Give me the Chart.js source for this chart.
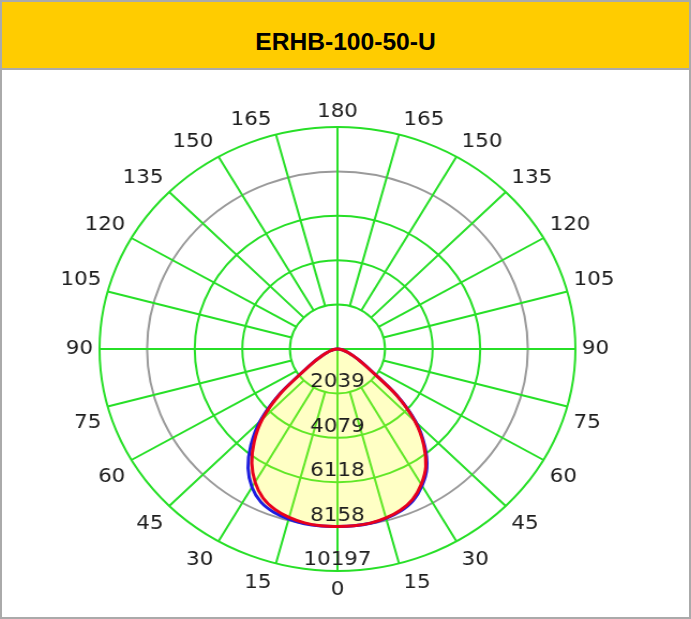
<!DOCTYPE html>
<html>
<head>
<meta charset="utf-8">
<script src="https://cdn.jsdelivr.net/npm/chart.js@4"></script>
<style>
html,body{margin:0;padding:0;background:#fff;}
#frame{position:absolute;left:0;top:0;width:691px;height:619px;box-sizing:border-box;border:2px solid #aaa;background:#fff;overflow:hidden;}
#hdr{position:absolute;left:0;top:0;width:687px;height:66px;background:#ffcc00;border-bottom:2px solid #aaa;
  font:bold 24.6px "Liberation Sans",Arial,sans-serif;color:#000;text-align:center;line-height:79px;overflow:hidden;}
#c{position:absolute;left:0;top:68px;}
</style>
</head>
<body>
<div id="frame">
  <div id="hdr">ERHB-100-50-U</div>
  <canvas id="c" width="641" height="547" style="width:687px;height:547px;"></canvas>
</div>
<script>
// ---- data ----
const chartTitle = 'ERHB-100-50-U';
// angle tick labels every 15 degrees, clockwise starting at the top
const angleTicks = ['180','165','150','135','120','105','90','75','60','45','30','15',
                    '0','15','30','45','60','75','90','105','120','135','150','165'];
// ring (intensity) tick labels
const ringLabels = ['2039','4079','6118','8158','10197'];
const ringTicks = [0, 2039, 4079, 6118, 8158, 10197];
// gamma angles of the measured values (deg)
const gammas = [0,5,10,15,20,25,30,35,40,45,50,55,60,65,70,75,80,85,90];
// C90 (right) / C270 (left) plane - red
const c90  = [8150,8150,8120,8030,7880,7620,7180,6600,5750,4700,3300,1800,1150,750,480,320,200,100,30];
const c270 = [8150,8150,8110,8010,7840,7550,7060,6400,5550,4550,3200,1780,1130,730,470,310,200,100,30];
// C0 (right) / C180 (left) plane - blue
const c0   = [8150,8150,8130,8050,7920,7680,7250,6680,5820,4760,3340,1820,1160,750,480,320,200,100,30];
const c180 = [8150,8160,8150,8090,7980,7760,7330,6680,5780,4700,3280,1800,1140,730,470,310,200,100,30];

// ---- build radar categories at 5 degree steps ----
const STEP = 5;
const N = 360 / STEP;
const categories = [];
for (let i = 0; i < N; i++) categories.push((i % 3 === 0) ? angleTicks[i / 3] : '');
function planeData(rightArr, leftArr) {
  const out = [];
  for (let i = 0; i < N; i++) {
    const a = i * STEP;
    if (a >= 90 && a <= 180) out.push(rightArr[gammas.indexOf(180 - a)]);
    else if (a > 180 && a <= 270) out.push(leftArr[gammas.indexOf(a - 180)]);
    else out.push(0);
  }
  return out;
}
const redData = planeData(c90, c270);
const blueData = planeData(c0, c180);

const GREEN = '#27df27';
const LABEL_FONT = '20px "DejaVu Sans", Verdana, sans-serif';

const photoGrid = {
  id: 'photoGrid',
  beforeDatasetsDraw(chart) {
    const s = chart.scales.r, c = chart.ctx;
    c.save();
    c.strokeStyle = GREEN; c.lineWidth = 2;
    for (let i = 0; i < N; i += 3) {
      const deg = i * STEP;
      const inner = (deg % 90 === 0) ? 0 : ringTicks[1];
      const p0 = s.getPointPositionForValue(i, inner);
      const p1 = s.getPointPositionForValue(i, s.max);
      c.beginPath(); c.moveTo(p0.x, p0.y); c.lineTo(p1.x, p1.y); c.stroke();
    }
    // angle labels
    c.fillStyle = '#1e1e1e'; c.font = LABEL_FONT;
    const R = s.drawingArea;
    for (let i = 0; i < N; i += 3) {
      const deg = i * STEP, th = deg * Math.PI / 180;
      const sn = Math.abs(Math.sin(th)), cs = Math.abs(Math.cos(th));
      const p = s.getPointPosition(i, R);
      let x = p.x, y = p.y, align, base;
      if (deg === 0) { align = 'center'; base = 'alphabetic'; y = p.y - 10; }
      else if (deg === 180) { align = 'center'; base = 'top'; y = p.y + 9; }
      else {
        align = deg < 180 ? 'left' : 'right';
        x = p.x + (deg < 180 ? 1 : -1) * (3.5 + 2.5 * sn);
        if (deg === 90 || deg === 270) base = 'middle';
        else if (deg < 90 || deg > 270) { base = 'alphabetic'; y = p.y - (6 + 4 * cs); }
        else { base = 'top'; y = p.y + (5 + 4 * cs); }
      }
      c.textAlign = align; c.textBaseline = base;
      c.fillText(categories[i], x, y);
    }
    c.restore();
  },
  afterDatasetsDraw(chart) {
    const s = chart.scales.r, c = chart.ctx;
    c.save();
    c.fillStyle = '#1e1e1e'; c.font = LABEL_FONT;
    c.textAlign = 'center'; c.textBaseline = 'alphabetic';
    ringLabels.forEach((lab, k) => {
      const p = s.getPointPositionForValue(N / 2, ringTicks[k + 1]);
      c.fillText(lab, p.x, p.y - 6);
    });
    c.restore();
  }
};

new Chart(document.getElementById('c'), {
  type: 'radar',
  data: {
    labels: categories,
    datasets: [
      { label: 'C90-C270', data: redData, borderColor: '#e8001c', borderWidth: 3,
        pointRadius: 0, fill: false, tension: 0.3 },
      { label: 'C0-C180', data: blueData, borderColor: '#1c1ce0', borderWidth: 3,
        pointRadius: 0, fill: 'origin', backgroundColor: 'rgba(255,255,40,0.27)', tension: 0.3 }
    ]
  },
  options: {
    responsive: false,
    animation: false,
    devicePixelRatio: 1,
    events: [],
    layout: { padding: { left: 91, right: 106, top: 57, bottom: 46 } },
    plugins: { legend: { display: false }, tooltip: { enabled: false }, title: { display: false } },
    scales: {
      r: {
        min: 0, max: 10197,
        afterBuildTicks: (axis) => { axis.ticks = ringTicks.map(v => ({ value: v })); },
        ticks: { display: false },
        grid: { circular: true, lineWidth: 2,
                color: (ctx) => (ctx.tick && ctx.tick.value === 8158) ? '#9a9a9a' : GREEN },
        angleLines: { display: false },
        pointLabels: { display: false }
      }
    }
  },
  plugins: [photoGrid]
});
</script>
</body>
</html>
